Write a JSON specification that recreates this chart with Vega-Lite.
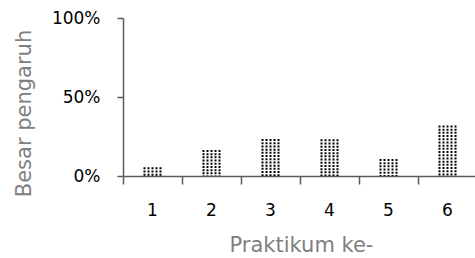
{
  "$schema": "https://vega.github.io/schema/vega-lite/v6.json",
  "width": 354,
  "height": 158,
  "autosize": "none",
  "padding": {"left": 123, "top": 18, "right": 0, "bottom": 82},
  "config": {"view": {"stroke": null}, "font": "DejaVu Sans"},
  "data": {"values": [
    {"k": "1", "v": 0.055},
    {"k": "2", "v": 0.165},
    {"k": "3", "v": 0.234},
    {"k": "4", "v": 0.232},
    {"k": "5", "v": 0.108},
    {"k": "6", "v": 0.32}
  ]},
  "encoding": {
    "x": {"field": "k", "type": "ordinal", "sort": null,
      "scale": {"paddingInner": 0, "paddingOuter": 0},
      "axis": {"title": "Praktikum ke-", "labelAngle": 0, "bandPosition": 0,
        "domainColor": "#595959", "domainWidth": 1.5, "tickColor": "#595959", "tickWidth": 1.5, "tickSize": 8,
        "labelFont": "DejaVu Sans", "labelFontSize": 17, "labelColor": "#000000", "labelPadding": 31, "labelBaseline": "alphabetic",
        "titleFont": "DejaVu Sans", "titleFontSize": 21, "titleFontWeight": "normal", "titleColor": "#7f7f7f",
        "titleBaseline": "alphabetic", "titleY": 75, "titleX": 178}},
    "y": {"field": "v", "type": "quantitative",
      "scale": {"domain": [0, 1]},
      "axis": {"title": "Besar pengaruh", "values": [0, 0.5, 1], "format": ".0%", "grid": false,
        "domainColor": "#595959", "domainWidth": 1.5, "tickColor": "#595959", "tickWidth": 1.5, "tickSize": 6,
        "labelFont": "DejaVu Sans", "labelFontSize": 17, "labelColor": "#000000", "labelPadding": 17,
        "titleFont": "DejaVu Sans", "titleFontSize": 21, "titleFontWeight": "normal", "titleColor": "#7f7f7f",
        "titleBaseline": "middle", "titleAlign": "center", "titleAngle": 270, "titleX": -99, "titleY": 95}}
  },
  "layer": [
    {"mark": {"type": "rule", "xOffset": -8, "strokeDash": [2, 1.2], "strokeWidth": 2, "color": "#000000"}, "encoding": {"y2": {"datum": 0}}},
    {"mark": {"type": "rule", "xOffset": -4, "strokeDash": [2, 1.2], "strokeWidth": 2, "color": "#000000"}, "encoding": {"y2": {"datum": 0}}},
    {"mark": {"type": "rule", "xOffset": 0, "strokeDash": [2, 1.2], "strokeWidth": 2, "color": "#000000"}, "encoding": {"y2": {"datum": 0}}},
    {"mark": {"type": "rule", "xOffset": 4, "strokeDash": [2, 1.2], "strokeWidth": 2, "color": "#000000"}, "encoding": {"y2": {"datum": 0}}},
    {"mark": {"type": "rule", "xOffset": 8, "strokeDash": [2, 1.2], "strokeWidth": 2, "color": "#000000"}, "encoding": {"y2": {"datum": 0}}}
  ]
}
